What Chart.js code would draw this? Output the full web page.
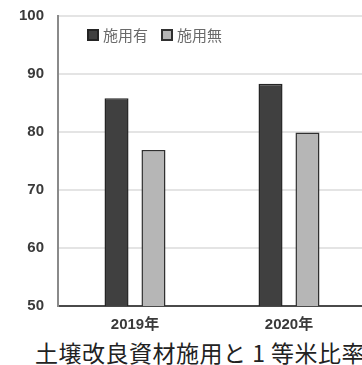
<!DOCTYPE html>
<html>
<head>
<meta charset="utf-8">
<script src="https://cdn.jsdelivr.net/npm/chart.js@4"></script>
<style>
  html, body { margin: 0; padding: 0; background: #fff; overflow: hidden; }
  #wrap { position: relative; width: 362px; height: 365px; overflow: hidden; }
  #chart { position: absolute; left: 0; top: 0; }
  #caption {
    position: absolute; left: 35px; top: 337px; white-space: nowrap;
    font-family: "Noto Sans CJK JP", sans-serif; font-size: 23px; line-height: 30px;
    color: #222; letter-spacing: 0.5px;
  }
</style>
</head>
<body>
<div id="wrap">
  <canvas id="chart" width="372" height="335"></canvas>
  <div id="caption">土壌改良資材施用と 1 等米比率</div>
</div>
<script>
const years = ["2019年", "2020年"]
const seriesNames = ["施用有", "施用無"]
const withAmendment = [85.8, 88.3]
const withoutAmendment = [76.9, 79.9]
const yTicks = [50, 60, 70, 80, 90, 100]

const fills = ["#404040", "#b6b6b6"]
const borders = ["#242424", "#303030"]
const tickFont = { family: "'Liberation Sans', 'Noto Sans CJK JP', sans-serif", size: 15, weight: "bold" }

// legend sits inside the plot, just under the top grid line
const insideLegend = {
    id: "insideLegend",
    afterDraw(chart) {
        const ctx = chart.ctx
        const area = chart.chartArea
        let x = area.left + 30
        const y = area.top + 19
        ctx.save()
        ctx.font = "15px 'Noto Sans CJK JP', sans-serif"
        ctx.textBaseline = "middle"
        chart.data.datasets.forEach(ds => {
            ctx.fillStyle = ds.backgroundColor
            ctx.strokeStyle = ds.borderColor
            ctx.lineWidth = 2
            ctx.fillRect(x, y - 5, 10, 10)
            ctx.strokeRect(x, y - 5, 10, 10)
            x += 15
            ctx.fillStyle = "#6a6a6a"
            ctx.fillText(ds.label, x, y)
            x += ctx.measureText(ds.label).width + 14
        })
        ctx.restore()
    }
}

new Chart(document.getElementById("chart"), {
    type: "bar",
    data: {
        labels: years,
        datasets: [
            { label: seriesNames[0], data: withAmendment, backgroundColor: fills[0], borderColor: borders[0], borderWidth: 1.5 },
            { label: seriesNames[1], data: withoutAmendment, backgroundColor: fills[1], borderColor: borders[1], borderWidth: 1.5 }
        ]
    },
    options: {
        responsive: false,
        animation: false,
        devicePixelRatio: 1,
        categoryPercentage: 0.48,
        barPercentage: 0.65,
        layout: { padding: { top: 16, right: 6, left: 0, bottom: 0 } },
        plugins: {
            legend: { display: false },
            tooltip: { enabled: false }
        },
        scales: {
            x: {
                grid: { display: false },
                border: { color: "#4a4a4a", width: 2 },
                ticks: { color: "#3a3a3a", font: tickFont, padding: 2 },
                afterFit(scale) { scale.height = 29 }
            },
            y: {
                min: yTicks[0],
                max: yTicks[yTicks.length - 1],
                afterBuildTicks(scale) { scale.ticks = yTicks.map(v => ({ value: v })) },
                grid: { color: "#e4e4e4", lineWidth: 2, drawTicks: false },
                border: { color: "#8a8a8a", width: 2 },
                ticks: { color: "#3a3a3a", font: tickFont, padding: 14 },
                afterFit(scale) {
                    scale.width = 58
                    scale.paddingTop = 0
                    scale.paddingBottom = 0
                }
            }
        }
    },
    plugins: [insideLegend]
})
</script>
</body>
</html>
